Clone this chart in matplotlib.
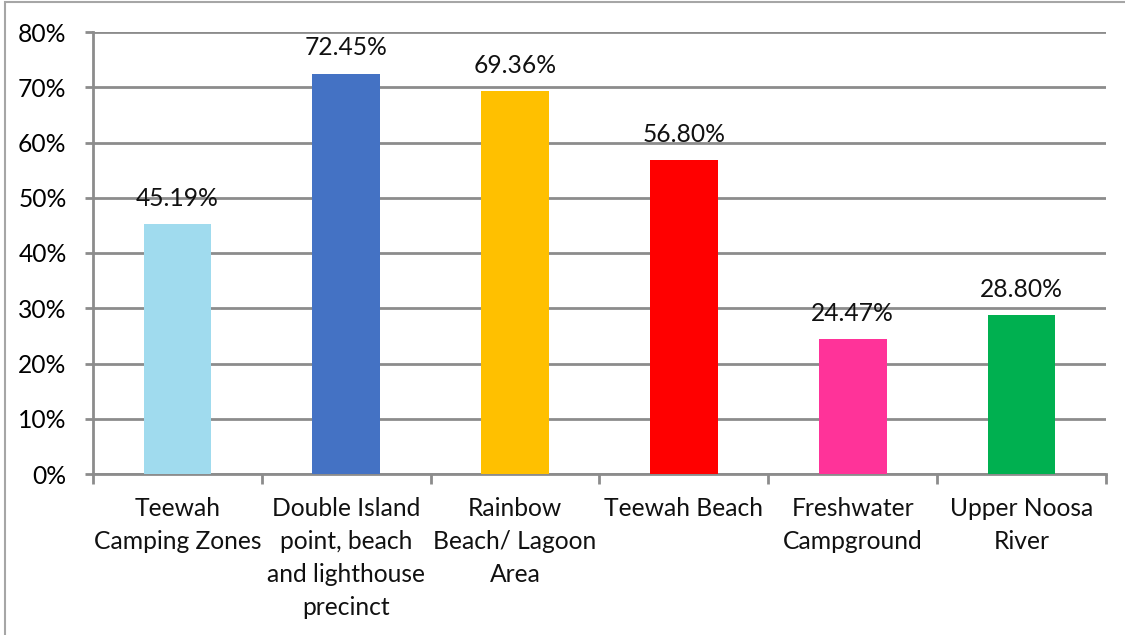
import matplotlib
matplotlib.use("Agg")
import matplotlib.pyplot as plt
from matplotlib.patches import Rectangle
import numpy as np

categories = [
    "Teewah\nCamping Zones",
    "Double Island\npoint, beach\nand lighthouse\nprecinct",
    "Rainbow\nBeach/ Lagoon\nArea",
    "Teewah Beach",
    "Freshwater\nCampground",
    "Upper Noosa\nRiver",
]
values = [45.19, 72.45, 69.36, 56.80, 24.47, 28.80]
colors = ["#A0DBEE", "#4472C4", "#FFC000", "#FF0000", "#FF3399", "#00B050"]
yticks = [0, 10, 20, 30, 40, 50, 60, 70, 80]

plt.rcParams["font.family"] = ["Lato", "DejaVu Sans"]
W, H = 1125, 635
fig = plt.figure(figsize=(W / 100, H / 100), dpi=100)

# outer chart frame (only top and left edges fall inside the canvas)
fig.patches.append(Rectangle((5 / W, -0.5), 1.2, 1.5 - 2 / H, transform=fig.transFigure,
                             fill=False, edgecolor="#A6A6A6", linewidth=1.5))

ax = fig.add_axes([93 / W, 1 - 474 / H, (1106 - 93) / W, (474 - 32) / H])
grid_c = "#8C8C8C"
fs = 17.7
x = np.arange(len(categories))
ax.bar(x, values, width=0.40, color=colors, zorder=3)
for xi, v in zip(x, values):
    ax.text(xi, v + 3.3, f"{v:.2f}%", ha="center", va="baseline", fontsize=fs, color="#111111")

ax.set_xlim(-0.5, len(categories) - 0.5)
ax.set_ylim(0, 80)
ax.set_yticks(yticks)
ax.set_yticklabels([f"{t}%" for t in yticks], fontsize=fs)
ax.yaxis.grid(True, color=grid_c, linewidth=2, zorder=0)
ax.tick_params(axis="y", length=6, width=2, color=grid_c, pad=13)

ax.set_xticks(np.arange(len(categories) + 1) - 0.5)
ax.set_xticklabels([])
ax.tick_params(axis="x", length=7, width=2, color=grid_c)
for xi, lab in zip(x, categories):
    ax.text(xi, -4.1, lab, ha="center", va="top", fontsize=fs, linespacing=1.53,
            transform=ax.transData, color="#111111")

for s in ["top", "right"]:
    ax.spines[s].set_visible(False)
for s in ["left", "bottom"]:
    ax.spines[s].set_color(grid_c)
    ax.spines[s].set_linewidth(2)

fig.savefig("out.png", dpi=100)
